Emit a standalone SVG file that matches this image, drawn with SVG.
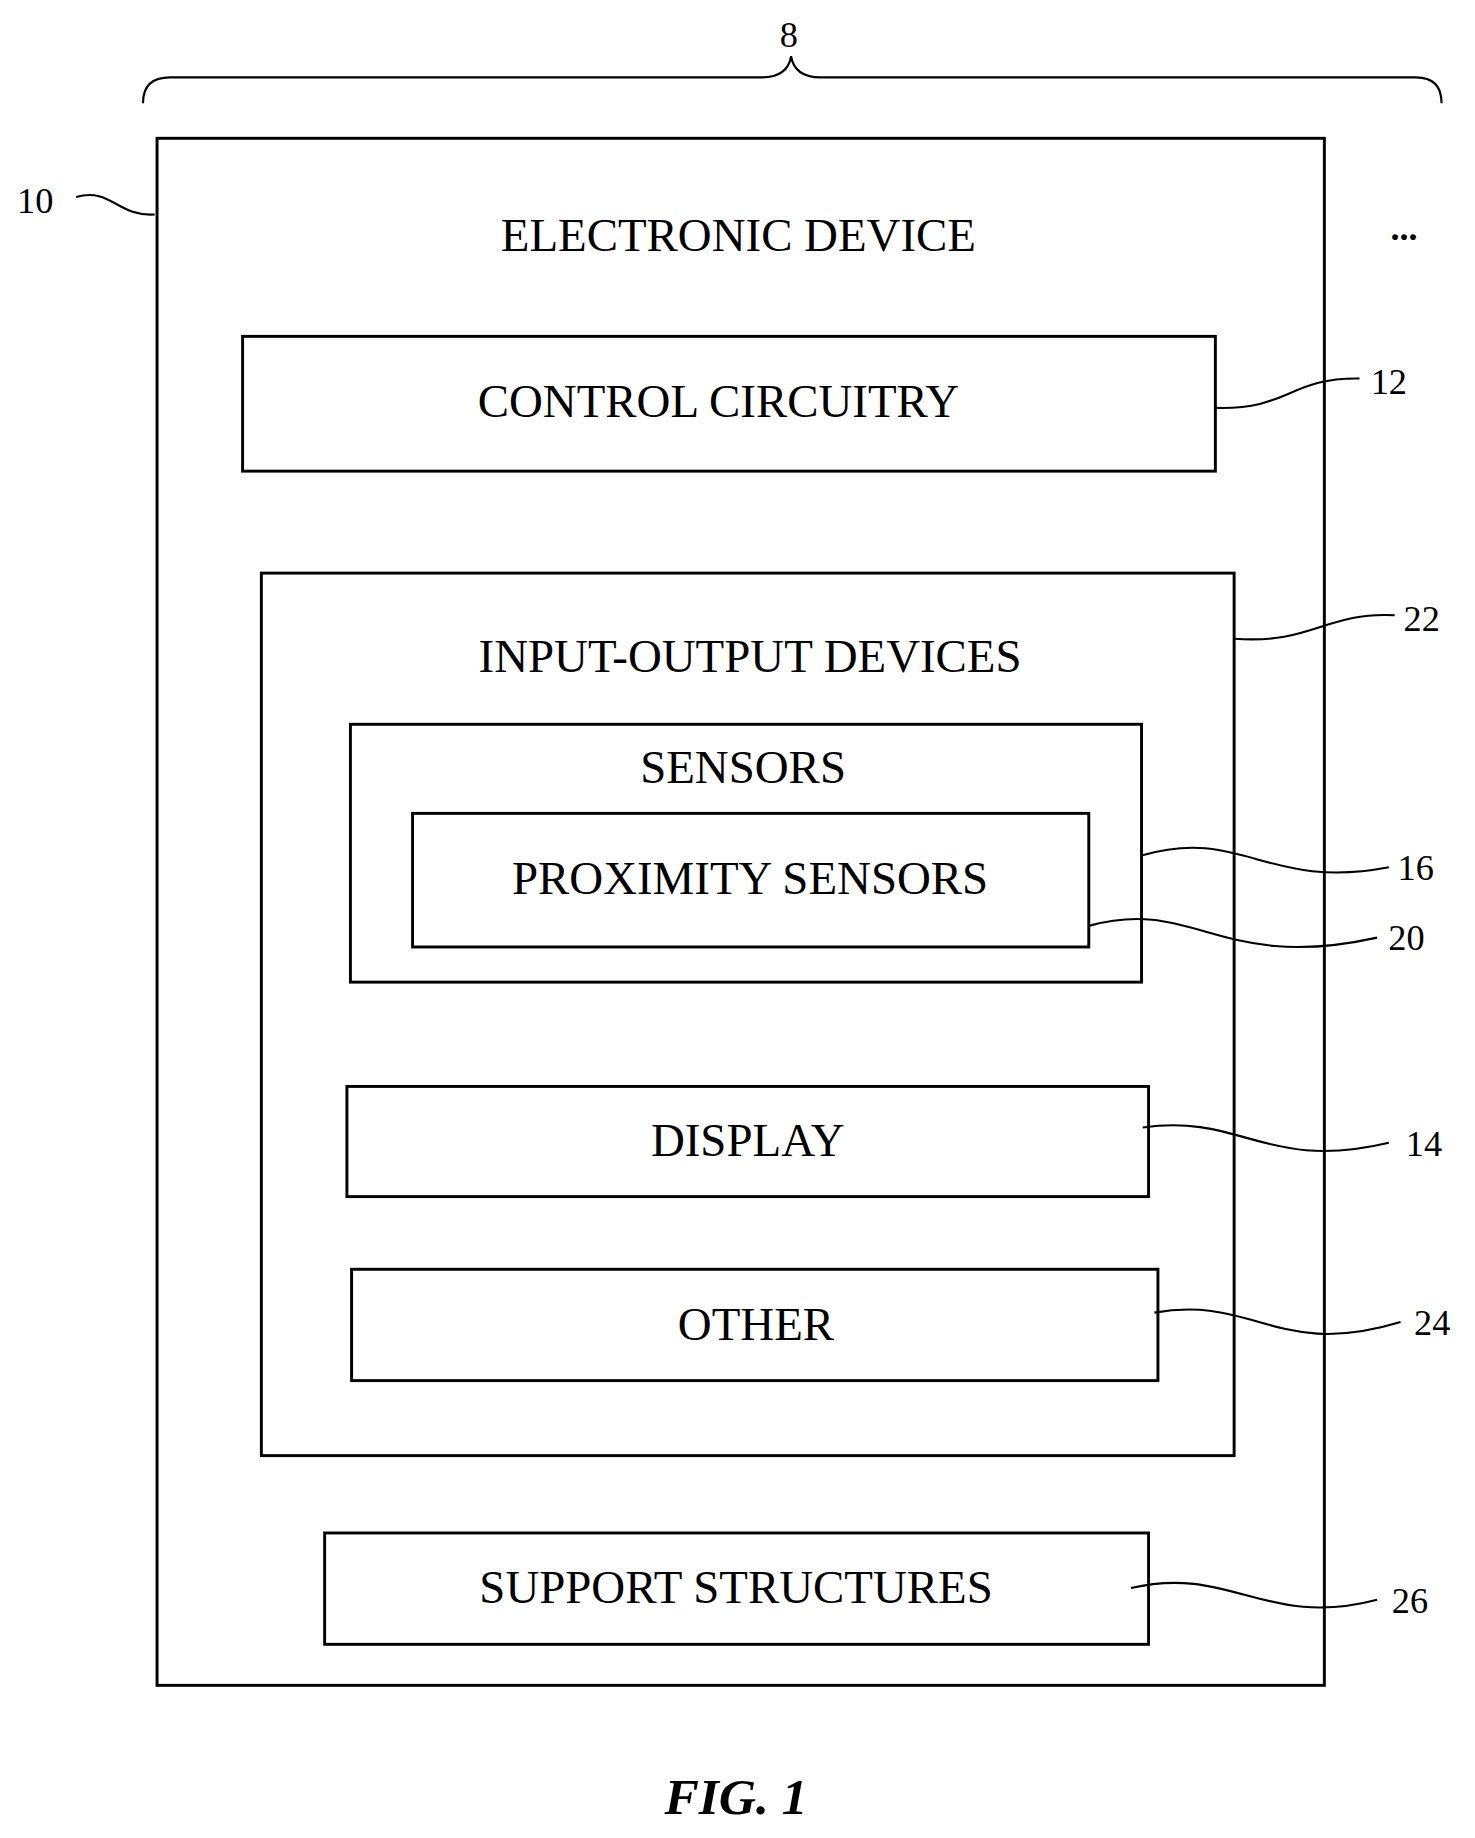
<svg xmlns="http://www.w3.org/2000/svg" width="1475" height="1838" viewBox="0 0 1475 1838">
<style>
.b{fill:none;stroke:#000;stroke-width:2.5}
.l{fill:none;stroke:#000;stroke-width:1.8}
.t{font-family:"Liberation Serif",serif;font-size:40px;text-anchor:middle}
.n{font-family:"Liberation Serif",serif;font-size:31px;text-anchor:middle}
</style>
<rect width="1475" height="1838" fill="#fff"/>
<g transform="scale(1.172)">
<g id="connectors">
<path class="l" d="M122,88 Q122,66 145,66 L650,66 Q672,66 675,48 Q678,66 700,66 L1208,66 Q1230,66 1230,88"/>
<path class="l" d="M65,168 C95,160 100,185 132,183"/>
<path class="l" d="M1037,348 C1100,350 1100,322 1160,323"/>
<path class="l" d="M1053,545 C1120,550 1130,522 1190,525"/>
<path class="l" d="M974,730 C1060,705 1080,760 1185,740"/>
<path class="l" d="M929,790 C1020,765 1040,830 1175,800"/>
<path class="l" d="M975,962 C1060,950 1080,1000 1185,975"/>
<path class="l" d="M985,1120 C1070,1105 1090,1160 1195,1128"/>
<path class="l" d="M965,1355 C1050,1335 1080,1390 1175,1365"/>
</g>
<text class="n" x="673" y="40">8</text>
<text class="n" x="30" y="182">10</text>
<text class="n" x="1198" y="205" style="font-weight:bold">...</text>
<text class="n" x="1185" y="336">12</text>
<text class="n" x="1213" y="538">22</text>
<text class="n" x="1208" y="751">16</text>
<text class="n" x="1200" y="811">20</text>
<text class="n" x="1215" y="986">14</text>
<text class="n" x="1222" y="1139">24</text>
<text class="n" x="1203" y="1376">26</text>
<g id="device"><rect class="b" x="134" y="118" width="996" height="1320"/><text class="t" x="630" y="214">ELECTRONIC DEVICE</text></g>
<g id="control"><rect class="b" x="207" y="287" width="830" height="115"/><text class="t" x="613" y="356">CONTROL CIRCUITRY</text></g>
<g id="io"><rect class="b" x="223" y="489" width="830" height="753"/><text class="t" x="640" y="573">INPUT-OUTPUT DEVICES</text></g>
<g id="sensors"><rect class="b" x="299" y="618" width="675" height="220"/><text class="t" x="634" y="668">SENSORS</text></g>
<g id="prox"><rect class="b" x="352" y="694" width="577" height="114"/><text class="t" x="640" y="763">PROXIMITY SENSORS</text></g>
<g id="display"><rect class="b" x="296" y="927" width="684" height="94"/><text class="t" x="638" y="986">DISPLAY</text></g>
<g id="other"><rect class="b" x="300" y="1083" width="688" height="95"/><text class="t" x="645" y="1143">OTHER</text></g>
<g id="support"><rect class="b" x="277" y="1308" width="703" height="95"/><text class="t" x="628" y="1368">SUPPORT STRUCTURES</text></g>
<text x="628" y="1548" style="font-family:'Liberation Serif',serif;font-size:44px;font-weight:bold;font-style:italic;text-anchor:middle">FIG. 1</text>
</g>
</svg>
